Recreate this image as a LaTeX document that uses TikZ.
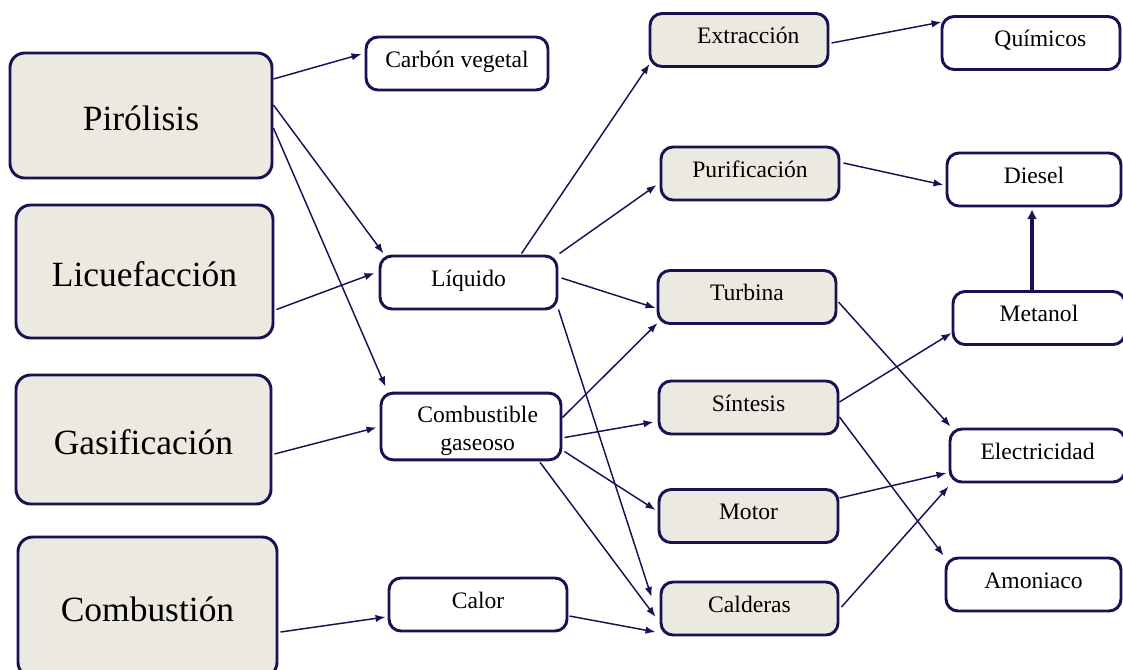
\documentclass[tikz,border=0pt]{standalone}
\usepackage{fontspec}
\setmainfont{Liberation Serif}
\usetikzlibrary{arrows.meta,calc}

\definecolor{navy}{RGB}{24,18,84}
\definecolor{beige}{RGB}{236,234,224}

\tikzset{every picture/.style={line width=0.75pt}}
\tikzset{
  bigbox/.style={draw=navy, line width=2.2pt, fill=beige, rounded corners=11pt, inner sep=0pt,
    font=\fontsize{26.6}{30}\selectfont, text height=22pt, text depth=0pt},
  smallbox/.style={draw=navy, line width=2.2pt, fill=white, rounded corners=9pt, inner sep=0pt,
    minimum width=133.5pt, minimum height=39.75pt, align=center,
    font=\fontsize{17.7}{26}\selectfont, text height=11.7pt, text depth=6pt},
  stagebox/.style={smallbox, fill=beige},
  flow/.style={draw=navy, line width=1.1pt, -{Latex[length=7.5pt,width=5.5pt]}},
  bigflow/.style={draw=navy, line width=2.6pt, -{Latex[length=7pt,width=7.5pt]}},
}

\begin{document}
\begin{tikzpicture}[x=0.75pt,y=0.75pt,yscale=-1,xscale=1]
\useasboundingbox (0,0) rectangle (1123,669);

% Procesos
\node[bigbox, minimum width=196.5pt, minimum height=93.75pt] (pir) at (141,115.5) {Pirólisis};
\node[bigbox, minimum width=192.75pt, minimum height=99.75pt] (licu) at (144.5,271.5) {Licuefacción};
\node[bigbox, minimum width=191.25pt, minimum height=96.75pt] (gasi) at (143.5,439.5) {Gasificación};
\node[bigbox, minimum width=194.25pt, minimum height=105pt] (combu) at (147.5,607) {Combustión};

% Productos intermedios
\node[smallbox, minimum width=136.5pt] (carbon) at (457,63.5) {Carbón vegetal};
\node[smallbox, minimum width=132.75pt] (liq) at (468.5,282.5) {Líquido};
\node[smallbox, minimum width=135pt, minimum height=50pt, font=\fontsize{17.7}{21}\selectfont,
  text height=35.25pt, text depth=0pt] (gas) at (471,426.5) {\hspace*{10pt}Combustible\\\hspace*{10pt}gaseoso};
\node[smallbox] (calor) at (478,604.5) {Calor};

% Etapas
\node[stagebox] (extr) at (739,40) {\hspace*{14pt}Extracción};
\node[stagebox] (puri) at (750,173.5) {Purificación};
\node[stagebox] (turb) at (747,297) {Turbina};
\node[stagebox, minimum width=134.25pt] (sint) at (748.5,407.5) {Síntesis};
\node[stagebox, minimum width=134.25pt] (motor) at (748.5,516) {Motor};
\node[stagebox, minimum width=132.75pt] (cald) at (749.5,608.5) {Calderas};

% Productos finales
\node[smallbox] (quim) at (1031,43) {\hspace*{14pt}Químicos};
\node[smallbox, minimum width=130.5pt] (diesel) at (1034,179.5) {Diesel};
\node[smallbox, minimum width=129pt] (metanol) at (1039,318) {Metanol};
\node[smallbox, minimum width=131.25pt] (elec) at (1037.5,455.5) {Electricidad};
\node[smallbox, minimum width=131.25pt] (amon) at (1033.5,584.5) {Amoniaco};

% Conexiones
\draw[flow] ($(pir.east)+(0,-36.5)$) -- ($(carbon.west)+(-3,-9.5)$);
\draw[flow] ($(pir.east)+(0,-10.5)$) -- ($(liq.north west)+(5,-1)$);
\draw[flow] ($(pir.east)+(0,12.5)$) -- ($(gas.north west)+(6,-5)$);
\draw[flow] ($(licu.east)+(2,38)$) -- ($(liq.west)+(-4,-9.5)$);
\draw[flow] ($(gasi.east)+(2,14.5)$) -- ($(gas.west)+(-3,1)$);
\draw[flow] ($(combu.east)+(2,25)$) -- ($(calor.west)+(-2,12.5)$);

\draw[flow] ($(liq.north)+(53,-1)$) -- ($(extr.south west)+(1,-4)$);
\draw[flow] ($(liq.north east)+(1,-1)$) -- ($(puri.west)+(-3,11.5)$);
\draw[flow] ($(liq.east)+(3,-4.5)$) -- ($(turb.west)+(-1,11)$);
\draw[flow] ($(liq.south east)+(0,-1)$) -- ($(cald.west)+(-8,-11.5)$);
\draw[flow] ($(gas.east)+(0,-9)$) -- ($(turb.south west)+(1,-2)$);
\draw[flow] ($(gas.east)+(2,11)$) -- ($(sint.west)+(-4,14.5)$);
\draw[flow] ($(gas.east)+(2,25)$) -- ($(motor.west)+(-2,-6)$);
\draw[flow] ($(gas.south)+(69,1)$) -- ($(cald.west)+(-4,8.5)$);
\draw[flow] ($(calor.east)+(1,11.5)$) -- ($(cald.west)+(-4,23.5)$);

\draw[flow] ($(extr.east)+(2,3)$) -- ($(quim.west)+(1,-21)$);
\draw[flow] ($(puri.east)+(3,-10.5)$) -- ($(diesel.west)+(-2,5.5)$);
\coordinate (mtop) at ($(metanol.north)+(-7,0)$);
\draw[bigflow] (mtop) -- ($(mtop |- diesel.south)+(0,2)$);
\draw[flow] ($(sint.east)+(0,-5.5)$) -- ($(metanol.west)+(0,15)$);
\draw[flow] ($(sint.east)+(0,9.5)$) -- ($(amon.north west)+(-1,-1)$);
\draw[flow] ($(turb.east)+(1,5)$) -- ($(elec.north west)+(2,-1)$);
\draw[flow] ($(motor.east)+(0,-18)$) -- ($(elec.west)+(-2,17.5)$);
\draw[flow] ($(cald.east)+(2,-1.5)$) -- ($(elec.south west)+(0,3)$);

\end{tikzpicture}
\end{document}
